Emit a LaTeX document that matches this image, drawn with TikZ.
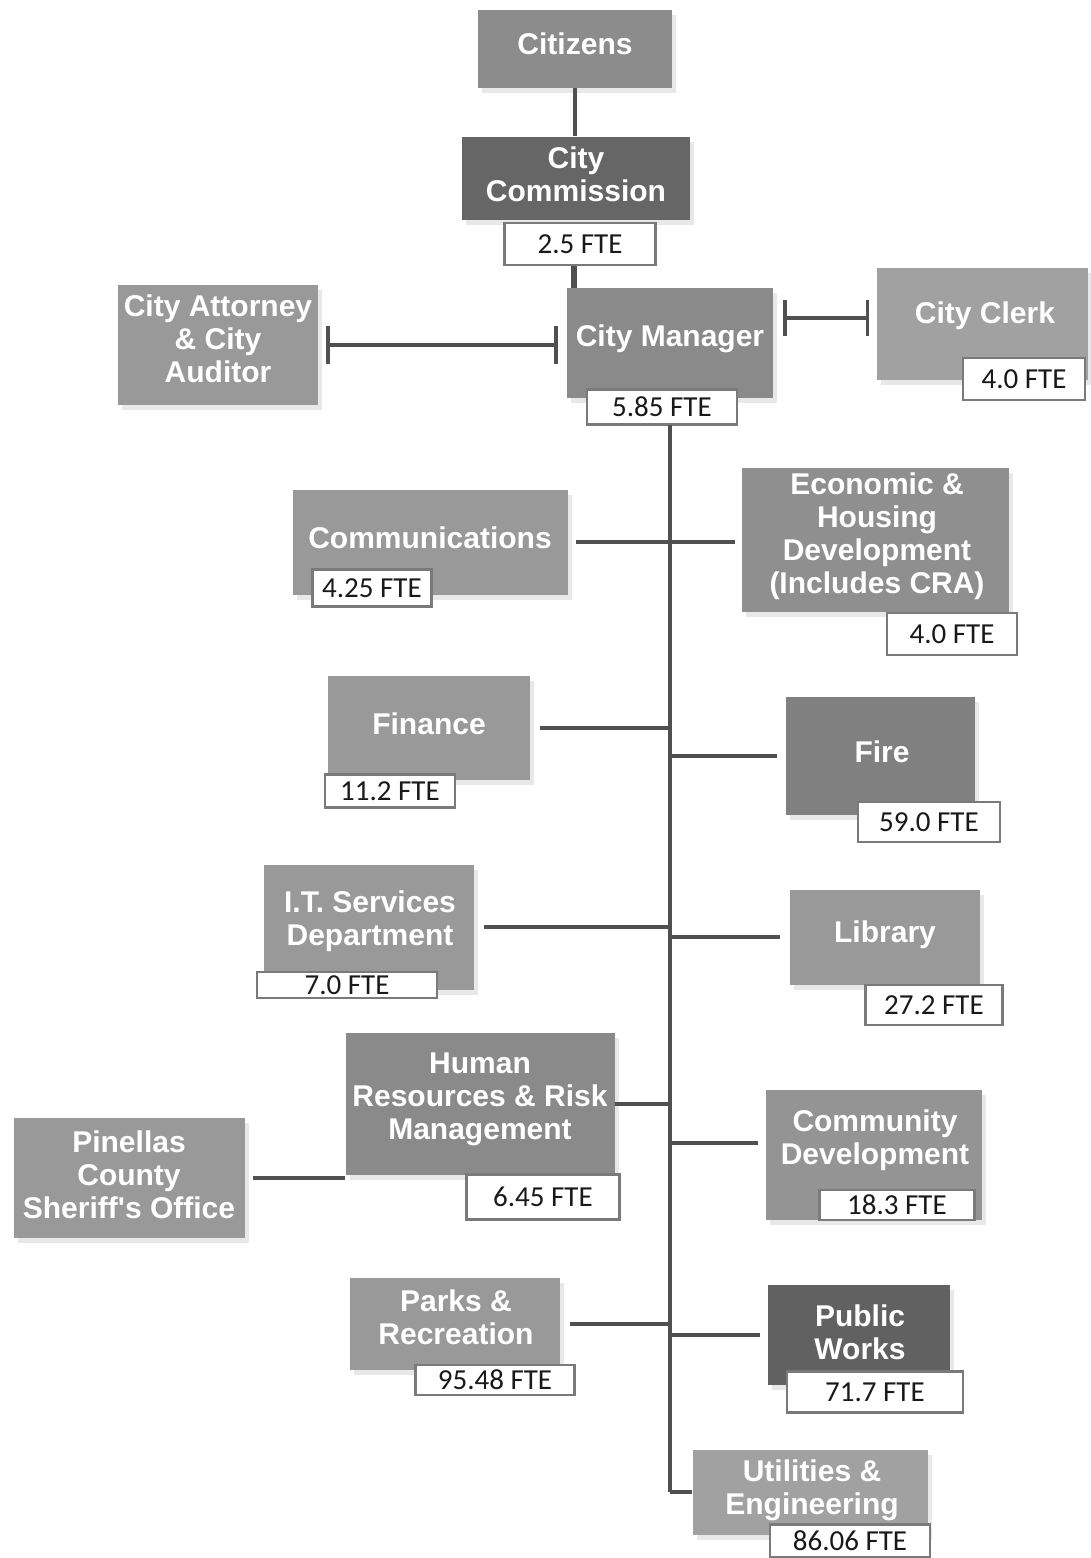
\documentclass[tikz,border=0pt]{standalone}
\usepackage{fontspec}
\setmainfont{Liberation Sans}
\newfontfamily\ftefont{Carlito}
\usetikzlibrary{arrows.meta,shadows}
\definecolor{linec}{HTML}{505050}
\definecolor{ftebord}{HTML}{7A7A7A}
\begin{document}
\begin{tikzpicture}[x=1pt,y=-1pt,
  orgbox/.style={rectangle, draw=none, inner sep=0pt,
    drop shadow={opacity=0.18, shadow xshift=4pt, shadow yshift=-5pt}},
  orgtext/.style={text=white, font=\fontsize{30}{33}\selectfont\bfseries, align=center, inner sep=0pt},
  ftebox/.style={rectangle, draw=ftebord, line width=2.8pt, fill=white, inner sep=0pt,
    font=\ftefont\fontsize{29}{32}\selectfont, text=black!90},
  conn/.style={draw=linec, line width=3.5pt},
]
\useasboundingbox[fill=white] (0,0) rectangle (1090,1558);

% ---- boxes ----
\node[orgbox, fill=black!45, minimum width=194pt, minimum height=78pt] (citizens) at (575,49) {};
\node[orgtext] (citizensT) at (575,44) {Citizens};

\node[orgbox, fill=black!60, minimum width=228pt, minimum height=83pt] (commission) at (576,178) {};
\node[orgtext] (commissionT) at (576,174) {City\\Commission};
\node[ftebox, minimum width=151pt, minimum height=42pt] (fteCommission) at (580,244) {2.5 FTE};

\node[orgbox, fill=black!46, minimum width=206pt, minimum height=110pt] (manager) at (670,343) {};
\node[orgtext] (managerT) at (670,339) {City Manager};
\node[ftebox, minimum width=150pt, minimum height=35pt] (fteManager) at (662,407) {5.85 FTE};

\node[orgbox, fill=black!40, minimum width=200pt, minimum height=120pt] (attorney) at (218,345) {};
\node[orgtext] (attorneyT) at (218,339) {City Attorney\\\& City\\Auditor};

\node[orgbox, fill=black!37, minimum width=211pt, minimum height=112pt] (clerk) at (982,324) {};
\node[orgtext] (clerkT) at (985,316) {City Clerk};
\node[ftebox, minimum width=122pt, minimum height=42pt] (fteClerk) at (1024,379) {4.0 FTE};

\node[orgbox, fill=black!40, minimum width=275pt, minimum height=105pt] (communications) at (430,542) {};
\node[orgtext] (communicationsT) at (430,538) {Communications};
\node[ftebox, minimum width=119pt, minimum height=37pt] (fteCommunications) at (372,588) {4.25 FTE};

\node[orgbox, fill=black!44, minimum width=267pt, minimum height=144pt] (econ) at (875,540) {};
\node[orgtext] (econT) at (877,536) {Economic \&\\Housing\\Development\\(Includes CRA)};
\node[ftebox, minimum width=130pt, minimum height=42pt] (fteEcon) at (952,634) {4.0 FTE};

\node[orgbox, fill=black!40, minimum width=202pt, minimum height=104pt] (finance) at (429,728) {};
\node[orgtext] (financeT) at (429,724) {Finance};
\node[ftebox, minimum width=130pt, minimum height=33pt] (fteFinance) at (390,791) {11.2 FTE};

\node[orgbox, fill=black!50, minimum width=189pt, minimum height=118pt] (fire) at (880,756) {};
\node[orgtext] (fireT) at (882,752) {Fire};
\node[ftebox, minimum width=142pt, minimum height=40pt] (fteFire) at (929,822) {59.0 FTE};

\node[orgbox, fill=black!40, minimum width=210pt, minimum height=125pt] (it) at (369,927) {};
\node[orgtext] (itT) at (370,921) {I.T. Services\\Department};
\node[ftebox, minimum width=180pt, minimum height=26pt] (fteIT) at (347,985) {7.0 FTE};

\node[orgbox, fill=black!40, minimum width=190pt, minimum height=95pt] (library) at (885,937) {};
\node[orgtext] (libraryT) at (885,935) {Library};
\node[ftebox, minimum width=137pt, minimum height=40pt] (fteLibrary) at (934,1005) {27.2 FTE};

\node[orgbox, fill=black!46, minimum width=269pt, minimum height=142pt] (hr) at (480,1104) {};
\node[orgtext] (hrT) at (480,1099) {Human\\Resources \& Risk\\Management};
\node[ftebox, minimum width=153pt, minimum height=45pt] (fteHR) at (543,1197) {6.45 FTE};

\node[orgbox, fill=black!40, minimum width=231pt, minimum height=120pt] (pinellas) at (129,1178) {};
\node[orgtext] (pinellasT) at (129,1175) {Pinellas\\County\\Sheriff\textquotesingle s Office};

\node[orgbox, fill=black!42, minimum width=216pt, minimum height=130pt] (commdev) at (874,1155) {};
\node[orgtext] (commdevT) at (875,1140) {Community\\Development};
\node[ftebox, minimum width=155pt, minimum height=30pt] (fteCommdev) at (897,1205) {18.3 FTE};

\node[orgbox, fill=black!40, minimum width=210pt, minimum height=92pt] (parks) at (455,1324) {};
\node[orgtext] (parksT) at (456,1317) {Parks \&\\Recreation};
\node[ftebox, minimum width=159pt, minimum height=30pt] (fteParks) at (495,1380) {95.48 FTE};

\node[orgbox, fill=black!62, minimum width=182pt, minimum height=100pt] (pubworks) at (859,1335) {};
\node[orgtext] (pubworksT) at (860,1332) {Public\\Works};
\node[ftebox, minimum width=176pt, minimum height=41pt] (ftePubworks) at (875,1392) {71.7 FTE};

\node[orgbox, fill=black!37, minimum width=235pt, minimum height=85pt] (utilities) at (810,1492) {};
\node[orgtext] (utilitiesT) at (812,1490) {Utilities \&\\Engineering};
\node[ftebox, minimum width=160pt, minimum height=33pt] (fteUtilities) at (850,1541) {86.06 FTE};

% ---- connectors ----
\coordinate (spine) at (670,425);
\coordinate (spineEnd) at (670,1492);

\draw[conn] (citizens.south) -- (citizens.south |- commission.north);
\draw[conn, line width=6pt] ([xshift=-6pt]fteCommission.south) -- ([xshift=-6pt]fteCommission.south |- manager.north);
\draw[conn, {Bar[width=38pt]}-{Bar[width=38pt]}, shorten <=8pt, shorten >=9pt]
  (attorney.east) -- (attorney.east -| manager.west);
\draw[conn, {Bar[width=36pt]}-{Bar[width=36pt]}, shorten <=10pt, shorten >=7pt]
  ([yshift=25pt]manager.east) -- ([yshift=25pt]manager.east -| clerk.west);

\draw[conn] (spine) -- (spineEnd);
\draw[conn] (spineEnd) -- (spineEnd -| utilities.west);

\draw[conn] ([xshift=8pt]communications.east) -- ([xshift=-6pt]communications.east -| econ.west);
\draw[conn] ([xshift=10pt]finance.east) -- (finance.east -| spine);
\draw[conn] ([xshift=-8pt]fire.west) -- (fire.west -| spine);
\draw[conn] ([xshift=10pt]it.east) -- (it.east -| spine);
\draw[conn] ([xshift=-10pt]library.west) -- (library.west -| spine);
\draw[conn] (hr.east) -- (hr.east -| spine);
\draw[conn] ([xshift=8pt]pinellas.east) -- (pinellas.east -| hr.west);
\draw[conn] ([xshift=-8pt,yshift=12pt]commdev.west) -- ([yshift=12pt]commdev.west -| spine);
\draw[conn] ([xshift=10pt]parks.east) -- (parks.east -| spine);
\draw[conn] ([xshift=-8pt]pubworks.west) -- (pubworks.west -| spine);
\end{tikzpicture}
\end{document}
